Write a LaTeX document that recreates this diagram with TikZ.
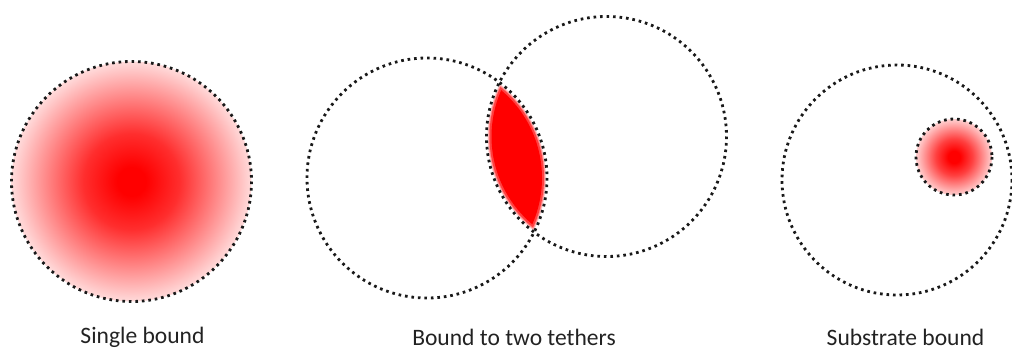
\documentclass[tikz,border=0pt]{standalone}
\usepackage{fontspec}
\setmainfont{Carlito}
\usepackage{tikz}
\usetikzlibrary{positioning}
\definecolor{tetherred}{HTML}{FF0000}
\definecolor{captiongray}{HTML}{222222}
\pgfdeclareradialshading{redglow}{\pgfpoint{0bp}{0bp}}{color(0bp)=(tetherred); color(3bp)=(tetherred); color(10bp)=(tetherred!82); color(25bp)=(tetherred!14); color(50bp)=(tetherred!14)}
\pgfdeclareradialshading{redspot}{\pgfpoint{0bp}{0bp}}{color(0bp)=(tetherred); color(4bp)=(tetherred); color(12bp)=(tetherred!75); color(25bp)=(tetherred!18); color(50bp)=(tetherred!18)}

\begin{document}
\begin{tikzpicture}[x=0.02cm,y=-0.02cm,
  dotline/.style={line width=1.6pt,dash pattern=on 1.5pt off 2.2pt,black!90},
  caption/.style={font=\fontsize{13.4}{16}\selectfont,text=captiongray,anchor=base,inner sep=0pt}]
\useasboundingbox (0,0) rectangle (1012,349);

% single bound
\shade[shading=redglow] (131.5,181.5) circle (120);
\draw[dotline] (131.5,181.5) circle (120);
\node[caption] (single) at (142.5,343) {Single bound};

% two tethers: soft lens in the overlap
\foreach \r/\c in {119/20,118/45,117/75,115/100}{
  \begin{scope}
    \clip (427,178) circle (\r);
    \fill[tetherred!\c] (606.5,136.5) circle (\r);
  \end{scope}
}
\draw[dotline] (427,178) circle (120);
\draw[dotline] (606.5,136.5) circle (120);
\node[caption] (two) at (514,345) {Bound to two tethers};

% substrate bound
\draw[dotline] (897,180) circle (115);
\shade[shading=redspot] (954,157) circle (38);
\draw[dotline] (954,157) circle (38);
\node[caption] (substrate) at (905.5,345.5) {Substrate bound};
\end{tikzpicture}
\end{document}
